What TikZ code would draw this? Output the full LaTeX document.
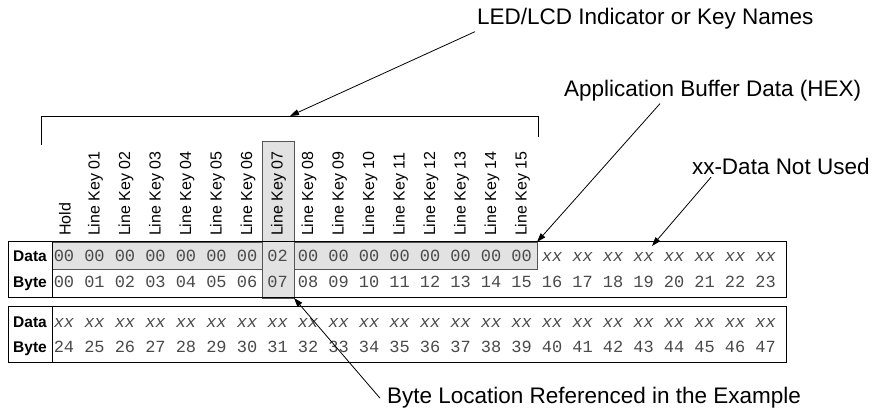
\documentclass[tikz,border=0pt]{standalone}
\usepackage{fontspec}
\setmainfont{Liberation Sans}
\newfontfamily\cellfont{Liberation Mono}
\usetikzlibrary{arrows.meta}
\definecolor{shade}{HTML}{E2E2E2}
\definecolor{rim}{HTML}{555555}
\definecolor{digit}{HTML}{4A4A4A}
\newcommand{\twodig}[1]{\ifnum#1<10 0\fi#1}

\begin{document}
\begin{tikzpicture}[x=1pt,y=-1pt,every node/.style={inner sep=0pt,outer sep=0pt},
  callout/.style={inner sep=2pt,anchor=base west,font=\fontsize{22.5}{26}\selectfont},
  keyname/.style={rotate=90,anchor=west,font=\fontsize{16}{18}\selectfont},
  rowname/.style={anchor=base,font=\fontsize{15.5}{18}\selectfont\bfseries},
  cell/.style={anchor=base,text=digit,font=\fontsize{17}{20}\selectfont\cellfont},
  unused/.style={cell,font=\fontsize{17}{20}\selectfont\cellfont\itshape},
  frame/.style={draw,line width=1pt,anchor=north west,minimum width=778,minimum height=56},
  band/.style={fill=shade,draw=rim,line width=0.9pt,anchor=north west},
  pointer/.style={line width=0.8pt,-{Triangle[length=9pt,width=6pt]}}]
  \useasboundingbox (0,0) rectangle (887,411);

  % highlighted areas
  \node[band,minimum width=485,minimum height=27] (bufband) at (52,242) {};
  \node[band,minimum width=32,minimum height=157] (keycol) at (262,141) {};

  % the two tables
  \node[frame] (frameA) at (8,242) {};
  \node[frame] (frameB) at (8,307) {};
  \draw[line width=1pt] (52,242) -- (52,298);
  \draw[line width=1pt] (52,307) -- (52,363);
  \node[rowname] (dataA) at (30,262) {Data};
  \node[rowname] (byteA) at (30,288) {Byte};
  \node[rowname] (dataB) at (30,328) {Data};
  \node[rowname] (byteB) at (30,353) {Byte};

  % key names
  \node[keyname] (key-0) at (65,236) {Hold};
  \foreach \i in {1,...,15}
    \node[keyname] (key-\i) at ({65+30.5*\i},236) {Line Key \twodig{\i}};

  % cells
  \foreach \i in {0,...,15}
    \node[cell] (dA-\i) at ({64+30.5*\i},262) {\ifnum\i=7 02\else 00\fi};
  \foreach \i in {16,...,23}
    \node[unused] (dA-\i) at ({64+30.5*\i},262) {xx};
  \foreach \i in {0,...,23} {
    \pgfmathtruncatemacro\j{\i+24}
    \node[cell] (bA-\i) at ({64+30.5*\i},288) {\twodig{\i}};
    \node[unused] (dB-\i) at ({64+30.5*\i},328) {xx};
    \node[cell] (bB-\i) at ({64+30.5*\i},353) {\j};
  }

  % bracket over the key names
  \coordinate (brkL) at (41,145);
  \coordinate (brkR) at (538,137);
  \coordinate (brktip) at (290,116);
  \draw[line width=0.9pt] (brkL) |- (brkR |- brktip) -- (brkR);

  % callouts
  \node[callout] (ledlbl) at (475,25) {LED/LCD Indicator or Key Names};
  \node[callout] (buflbl) at (562,97) {Application Buffer Data (HEX)};
  \node[callout] (unusedlbl) at (690,175) {xx-Data Not Used};
  \node[callout] (loclbl) at (385,404) {Byte Location Referenced in the Example};
  \coordinate (unusedtip) at (652,246);

  \draw[pointer] (ledlbl.south west) -- (brktip);
  \draw[pointer] ([xshift=98]buflbl.south west) -- (bufband.north east);
  \draw[pointer] ([xshift=21]unusedlbl.south west) -- (unusedtip);
  \draw[pointer] ([xshift=-5]loclbl.west) -- (keycol.south east);
\end{tikzpicture}
\end{document}
